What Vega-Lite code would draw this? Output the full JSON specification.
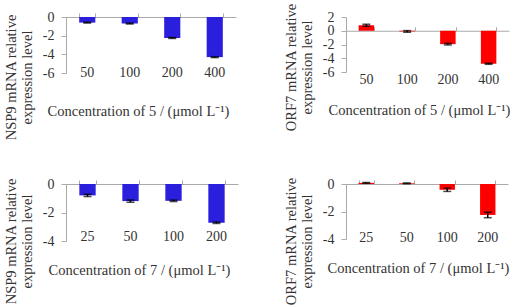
{
  "$schema": "https://vega.github.io/schema/vega-lite/v6.json",
  "padding": {"left": 3, "top": 2, "right": 5, "bottom": 2},
  "columns": 2,
  "spacing": {"row": 35, "column": 45},
  "config": {
    "view": {"stroke": null},
    "font": "Liberation Serif",
    "axis": {"labelFont": "Liberation Serif", "titleFont": "Liberation Serif", "labelFontSize": 14, "titleFontSize": 14.5, "titleFontWeight": "normal", "labelColor": "#333", "titleColor": "#333", "grid": false, "labelOverlap": false, "labelFlush": false}
  },
  "concat": [
    {
      "width": 170, "height": 56,
      "data": {"values": [
        {"conc": "50", "value": -0.6, "err": 0.05},
        {"conc": "100", "value": -0.7, "err": 0.05},
        {"conc": "200", "value": -2.25, "err": 0.05},
        {"conc": "400", "value": -4.3, "err": 0.05}
      ]},
      "encoding": {
        "y": {"field": "value", "type": "quantitative", "scale": {"domain": [-6, 0], "nice": false},
              "axis": {"values": [-6, -4, -2, 0], "domainColor": "#aaa", "tickColor": "#aaa", "tickSize": 5, "labelPadding": 7, "labelExpr": "datum.value < 0 ? '-' + (-datum.value) : '' + datum.value", "title": ["NSP9 mRNA relative", "expression level"], "titlePadding": 8, "titleLineHeight": 16, "titleY": 60}}
      },
      "layer": [
        {"mark": {"type": "bar", "color": "#2a1fdc"},
         "encoding": {
           "x": {"field": "conc", "type": "ordinal", "sort": null, "scale": {"paddingInner": 0.62, "paddingOuter": 0.31},
                 "axis": {"orient": "bottom", "domain": false, "ticks": false, "labelAngle": 0, "labelPadding": -8, "title": "Concentration of  5 / (μmol L⁻¹)", "titleX": 72, "titleY": 38, "titleBaseline": "middle"}}
         }},
        {"mark": {"type": "errorbar", "ticks": {"size": 8}, "color": "black", "thickness": 1.5},
         "encoding": {
           "x": {"field": "conc", "type": "ordinal", "sort": null,
                 "axis": {"orient": "top", "labels": false, "domain": true, "domainColor": "#aaa", "ticks": true, "tickBand": "extent", "tickSize": 4, "tickColor": "#aaa", "title": null}},
           "yError": {"field": "err"}
         }}
      ]
    },
    {
      "width": 163, "height": 55,
      "data": {"values": [
        {"conc": "50", "value": 0.8, "err": 0.15},
        {"conc": "100", "value": -0.1, "err": 0.12},
        {"conc": "200", "value": -1.95, "err": 0.12},
        {"conc": "400", "value": -4.8, "err": 0.08}
      ]},
      "encoding": {
        "y": {"field": "value", "type": "quantitative", "scale": {"domain": [-6, 2], "nice": false},
              "axis": {"values": [-6, -4, -2, 0, 2], "domainColor": "#aaa", "tickColor": "#aaa", "tickSize": 5, "labelPadding": 7, "labelExpr": "datum.value < 0 ? '-' + (-datum.value) : '' + datum.value", "title": ["ORF7 mRNA relative", "expression level"], "titlePadding": 8, "titleLineHeight": 16, "titleY": 50}}
      },
      "layer": [
        {"mark": {"type": "bar", "color": "#ff0000"},
         "encoding": {
           "x": {"field": "conc", "type": "ordinal", "sort": null, "scale": {"paddingInner": 0.62, "paddingOuter": 0.31},
                 "axis": {"orient": "bottom", "domain": false, "ticks": false, "labelAngle": 0, "labelPadding": 0.5, "title": "Concentration of  5 / (μmol L⁻¹)", "titleX": 73, "titleY": 38, "titleBaseline": "middle"}}
         }},
        {"mark": {"type": "errorbar", "ticks": {"size": 8}, "color": "black", "thickness": 1.5},
         "encoding": {
           "x": {"field": "conc", "type": "ordinal", "sort": null,
                 "axis": {"orient": "top", "offset": -13.75, "labels": false, "domain": true, "domainColor": "#aaa", "ticks": true, "tickBand": "extent", "tickSize": 4, "tickColor": "#aaa", "title": null}},
           "yError": {"field": "err"}
         }}
      ]
    },
    {
      "width": 172, "height": 57,
      "data": {"values": [
        {"conc": "25", "value": -0.8, "err": 0.08},
        {"conc": "50", "value": -1.2, "err": 0.08},
        {"conc": "100", "value": -1.18, "err": 0.05},
        {"conc": "200", "value": -2.72, "err": 0.05}
      ]},
      "encoding": {
        "y": {"field": "value", "type": "quantitative", "scale": {"domain": [-4, 0], "nice": false},
              "axis": {"values": [-4, -2, 0], "domainColor": "#aaa", "tickColor": "#aaa", "tickSize": 5, "labelPadding": 7, "labelExpr": "datum.value < 0 ? '-' + (-datum.value) : '' + datum.value", "title": ["NSP9 mRNA relative", "expression level"], "titlePadding": 8, "titleLineHeight": 16, "titleY": 57}}
      },
      "layer": [
        {"mark": {"type": "bar", "color": "#2a1fdc"},
         "encoding": {
           "x": {"field": "conc", "type": "ordinal", "sort": null, "scale": {"paddingInner": 0.62, "paddingOuter": 0.31},
                 "axis": {"orient": "bottom", "domain": false, "ticks": false, "labelAngle": 0, "labelPadding": -11.5, "title": "Concentration of  7 / (μmol L⁻¹)", "titleX": 73, "titleY": 29, "titleBaseline": "middle"}}
         }},
        {"mark": {"type": "errorbar", "ticks": {"size": 8}, "color": "black", "thickness": 1.5},
         "encoding": {
           "x": {"field": "conc", "type": "ordinal", "sort": null,
                 "axis": {"orient": "top", "labels": false, "domain": true, "domainColor": "#aaa", "ticks": true, "tickBand": "extent", "tickSize": 4, "tickColor": "#aaa", "title": null}},
           "yError": {"field": "err"}
         }}
      ]
    },
    {
      "width": 162, "height": 55,
      "data": {"values": [
        {"conc": "25", "value": 0.08, "err": 0.03},
        {"conc": "50", "value": 0.05, "err": 0.03},
        {"conc": "100", "value": -0.42, "err": 0.12},
        {"conc": "200", "value": -2.25, "err": 0.2}
      ]},
      "encoding": {
        "y": {"field": "value", "type": "quantitative", "scale": {"domain": [-4, 0], "nice": false},
              "axis": {"values": [-4, -2, 0], "domainColor": "#aaa", "tickColor": "#aaa", "tickSize": 5, "labelPadding": 7, "labelExpr": "datum.value < 0 ? '-' + (-datum.value) : '' + datum.value", "title": ["ORF7 mRNA relative", "expression level"], "titlePadding": 8, "titleLineHeight": 16, "titleY": 57}}
      },
      "layer": [
        {"mark": {"type": "bar", "color": "#ff0000"},
         "encoding": {
           "x": {"field": "conc", "type": "ordinal", "sort": null, "scale": {"paddingInner": 0.62, "paddingOuter": 0.31},
                 "axis": {"orient": "bottom", "domain": false, "ticks": false, "labelAngle": 0, "labelPadding": -9, "title": "Concentration of  7 / (μmol L⁻¹)", "titleX": 72, "titleY": 29, "titleBaseline": "middle"}}
         }},
        {"mark": {"type": "errorbar", "ticks": {"size": 8}, "color": "black", "thickness": 1.5},
         "encoding": {
           "x": {"field": "conc", "type": "ordinal", "sort": null,
                 "axis": {"orient": "top", "labels": false, "domain": true, "domainColor": "#aaa", "ticks": true, "tickBand": "extent", "tickSize": 4, "tickColor": "#aaa", "title": null}},
           "yError": {"field": "err"}
         }}
      ]
    }
  ]
}
